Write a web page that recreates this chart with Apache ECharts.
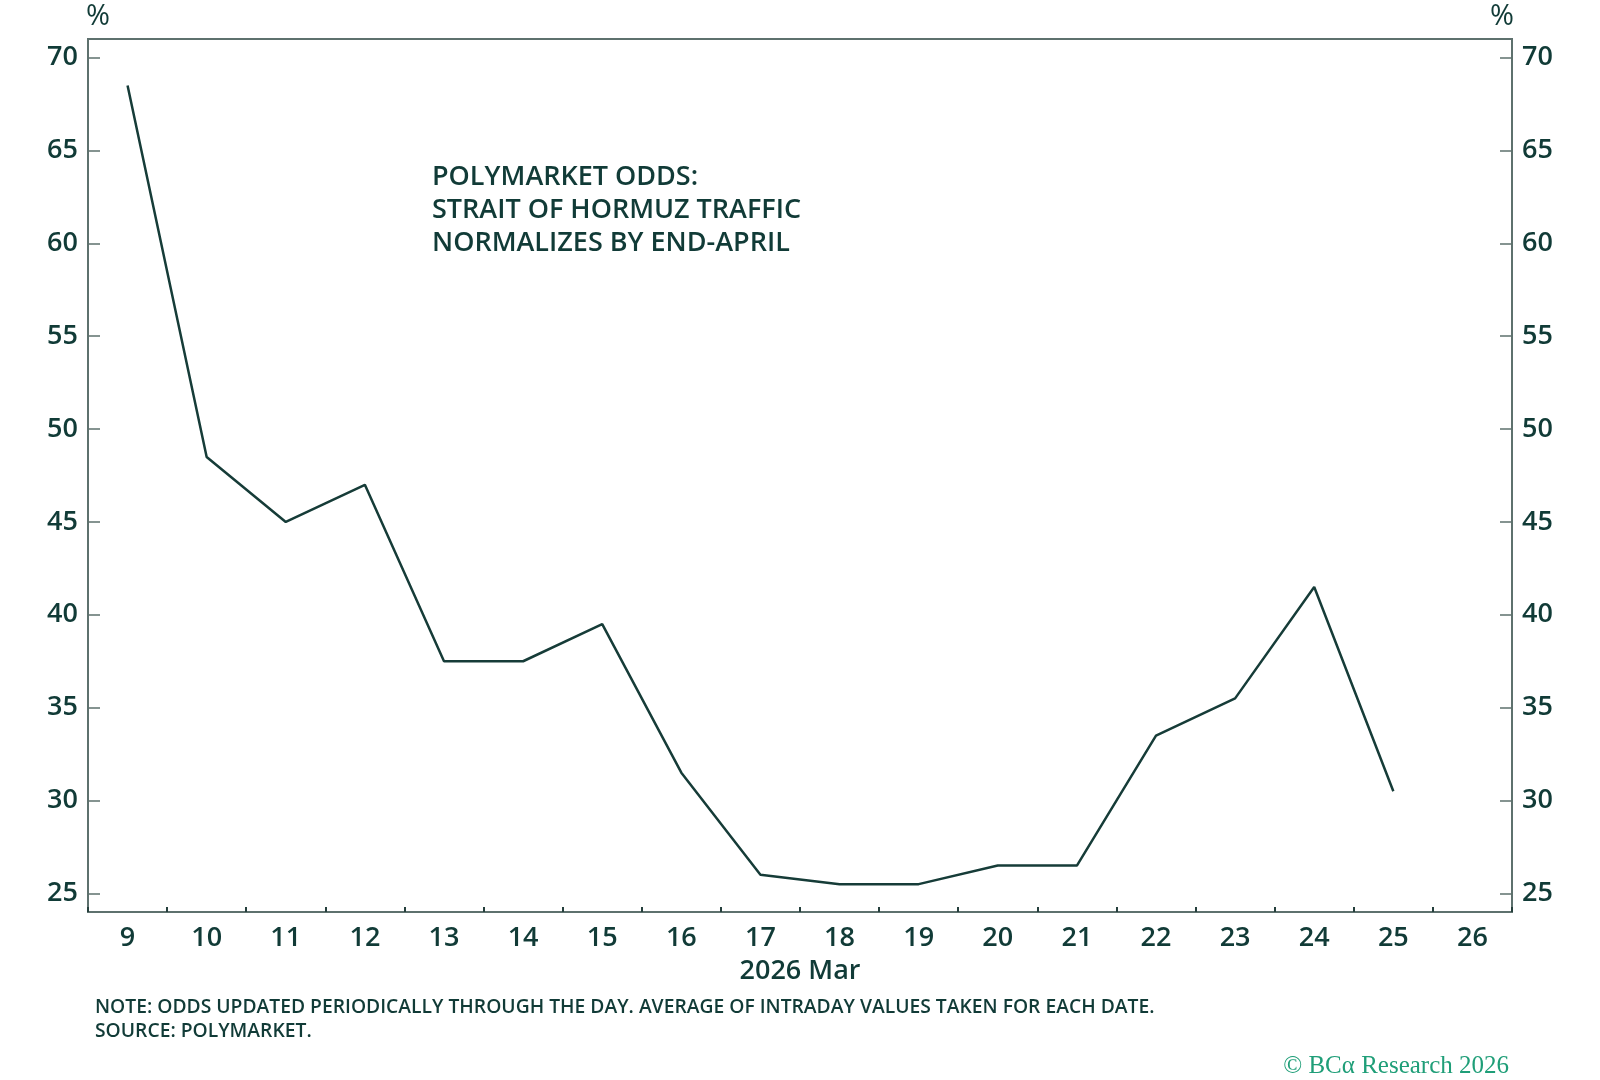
<!DOCTYPE html>
<html>
<head>
<meta charset="utf-8">
<script src="https://cdn.jsdelivr.net/npm/echarts@6/dist/echarts.min.js"></script>
<style>
html,body{margin:0;padding:0;background:#fff;}
#chart{width:1600px;height:1080px;}
</style>
</head>
<body>
<div id="chart"></div>
<script>
// Data
const days = ['9','10','11','12','13','14','15','16','17','18','19','20','21','22','23','24','25','26'];
const odds = [68.5, 48.5, 45.0, 47.0, 37.5, 37.5, 39.5, 31.5, 26.0, 25.5, 25.5, 26.5, 26.5, 33.5, 35.5, 41.5, 30.5, null];
const yTicks = [25, 30, 35, 40, 45, 50, 55, 60, 65, 70];
const yMin = 24, yMax = 71;

const titleText = 'POLYMARKET ODDS:\nSTRAIT OF HORMUZ TRAFFIC\nNORMALIZES BY END-APRIL';
const noteText = 'NOTE: ODDS UPDATED PERIODICALLY THROUGH THE DAY. AVERAGE OF INTRADAY VALUES TAKEN FOR EACH DATE.\nSOURCE: POLYMARKET.';
const creditText = '© BCα Research 2026';
const xAxisName = '2026 Mar';

const AXIS = '#5e716e';
const TEXT = '#113b37';
const LINE = '#163c38';
const FONT = '"Open Sans", "Noto Sans", sans-serif';
const W = 600;

const chart = echarts.init(document.getElementById('chart'), null, {renderer: 'canvas'});

function yAxisCfg(pos) {
  return {
    type: 'value',
    position: pos,
    min: yMin,
    max: yMax,
    name: '%',
    nameLocation: 'end',
    nameGap: 8,
    nameTextStyle: {color: TEXT, fontSize: 29, fontWeight: 500, fontFamily: FONT, align: pos === 'left' ? 'left' : 'right', verticalAlign: 'bottom', padding: pos === 'left' ? [0,0,0,-2] : [0,-2,0,0]},
    axisLine: {show: true, lineStyle: {color: AXIS, width: 2}},
    axisTick: {show: true, inside: true, length: 12, lineStyle: {color: AXIS, width: 1.5}, customValues: yTicks},
    axisLabel: {show: true, color: TEXT, fontSize: 27, fontWeight: W, fontFamily: FONT, margin: 10, customValues: yTicks},
    splitLine: {show: false}
  };
}

const option = {
  backgroundColor: '#ffffff',
  animation: false,
  title: [
    {text: titleText, left: 427, top: 156, textStyle: {color: TEXT, fontSize: 27, fontWeight: W, fontFamily: FONT, lineHeight: 33}},
    {text: noteText, left: 90, top: 991, textStyle: {color: TEXT, fontSize: 19.3, fontWeight: W, fontFamily: FONT, lineHeight: 24}},
    {text: creditText, right: 86, top: 1049, textStyle: {color: '#1f9e78', fontSize: 25, fontWeight: 'normal', fontFamily: '"Liberation Serif", "DejaVu Serif", serif'}}
  ],
  grid: {left: 88, right: 88, top: 39, bottom: 168, show: true, borderColor: AXIS, borderWidth: 2, containLabel: false},
  xAxis: {
    type: 'category',
    data: days,
    boundaryGap: true,
    name: xAxisName,
    nameLocation: 'middle',
    nameGap: 46,
    nameTextStyle: {color: TEXT, fontSize: 27, fontWeight: W, fontFamily: FONT},
    axisLine: {show: true, lineStyle: {color: AXIS, width: 2}},
    axisTick: {show: true, inside: true, length: 5, lineStyle: {color: '#253f3c', width: 2}},
    axisLabel: {color: TEXT, fontSize: 27, fontWeight: W, fontFamily: FONT, margin: 13, interval: 0},
    splitLine: {show: false}
  },
  yAxis: [yAxisCfg('left'), yAxisCfg('right')],
  series: [{
    type: 'line',
    data: odds,
    yAxisIndex: 0,
    showSymbol: false,
    symbol: 'none',
    connectNulls: false,
    lineStyle: {color: LINE, width: 2.5},
    emphasis: {disabled: true}
  }]
};
chart.setOption(option);
</script>
</body>
</html>
